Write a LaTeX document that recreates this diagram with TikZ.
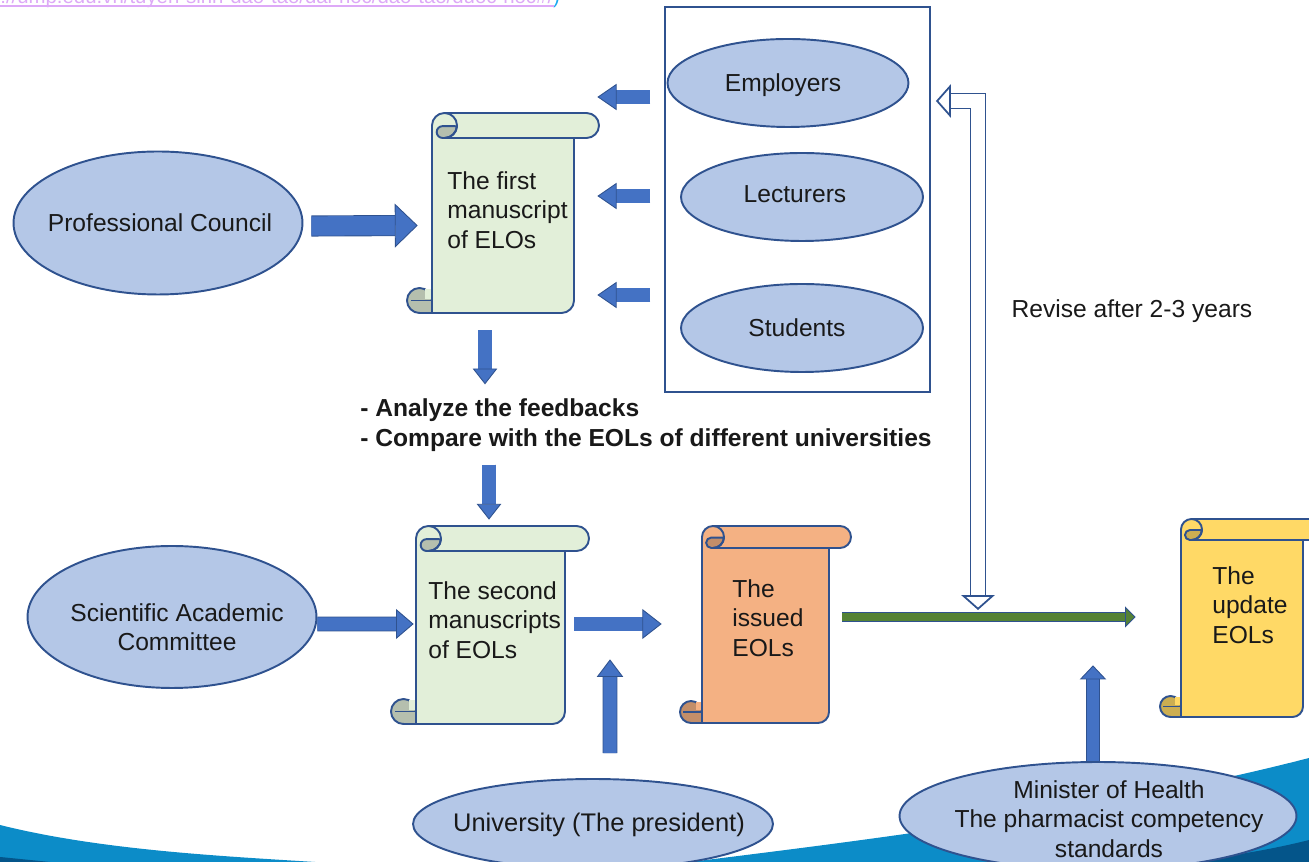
\documentclass[tikz,border=0pt]{standalone}
\usepackage{fontspec}
\setmainfont{Liberation Sans}
\usetikzlibrary{arrows.meta, calc, fit, shapes.geometric}
\definecolor{edgeblue}{HTML}{2F528F}
\definecolor{arrowblue}{HTML}{4472C4}
\definecolor{ovalblue}{HTML}{B4C7E7}
\definecolor{wavemid}{HTML}{0C8CC8}
\definecolor{wavedark}{HTML}{04558A}
\definecolor{greenfill}{HTML}{E2EFD9}
\definecolor{greendark}{HTML}{B5BFAE}
\definecolor{orangefill}{HTML}{F4B183}
\definecolor{orangedark}{HTML}{C38E69}
\definecolor{yellowfill}{HTML}{FFD966}
\definecolor{yellowdark}{HTML}{CCAE52}
\definecolor{stemgreen}{HTML}{548235}
\definecolor{linklilac}{HTML}{DDA9F7}
\definecolor{linkcyan}{HTML}{19A9F0}
\tikzset{
    oval/.style={draw=edgeblue, line width=1.1pt, fill=ovalblue, ellipse, inner sep=0pt, minimum width=#1},
    scrolledge/.style={draw=edgeblue, line width=1.1pt, line join=round},
    caption/.style={inner sep=0pt, align=#1, text=black!90, font=\fontsize{14}{16.7}\selectfont},
    caption/.default=center,
    blockarrow/.style n args={4}{draw=edgeblue, line width=0.5pt, double=#4, double distance=#1,
        -{Triangle[length=#2, width=#3, fill=#4]}},
}
% name, left, top, end of roll, right, bottom, radius, fill, dark fill
\newcommand\manuscript[9]{
    \draw[scrolledge, fill=#8] (#2,#3-#7) arc (180:90:#7) -- (#4-#7,#3) arc (90:-90:#7) -- (#5,#3-2*#7)
        -- (#5,#6+#7) arc (0:-90:#7) -- (#2,#6) -- cycle;
    \draw[scrolledge, fill=#9] (#2+1.8*#7,#3-1.05*#7) -- (#2+0.85*#7,#3-1.05*#7) arc (90:270:0.475*#7)
        -- (#2+#7,#3-2*#7) arc (-90:-5:#7) -- cycle;
    \draw[scrolledge] (#2+#7,#3) arc (90:-90:#7) -- (#5,#3-2*#7);
    \fill[#9] (#2-#7,#6) rectangle (#2,#6+#7);
    \draw[scrolledge, fill=#9] (#2-#7,#6+#7) circle (#7);
    \fill[#9] (#2-#7,#6) rectangle (#2,#6+#7);
    \fill[#8] (#2-0.55*#7,#6+#7+1.5) rectangle (#2-1,#6+2*#7-1);
    \draw[scrolledge] (#2-1.7*#7,#6+#7) -- (#2,#6+#7);
    \draw[scrolledge] (#2-#7,#6) -- (#2,#6) -- (#2,#6+2*#7);
    \node[fit={(#2,#3-2*#7) (#5,#6)}, inner sep=0pt] (#1) {};
}
\begin{document}
\begin{tikzpicture}[x=0.02cm, y=0.02cm]
    \clip (0,0) rectangle (1309,862);

    % wave along the bottom
    \fill[wavemid] (0,37) .. controls (100,12) and (220,6) .. (315,0) -- (0,0) -- cycle;
    \fill[wavedark] (0,5) -- (50,0) -- (0,0) -- cycle;
    \fill[wavemid] (690,0) .. controls (850,20) and (1100,50) .. (1309,104) -- (1309,0) -- cycle;
    \fill[wavedark] (1180,0) .. controls (1220,4) and (1270,12) .. (1309,22) -- (1309,0) -- cycle;

    % link cut off by the top edge
    \node[anchor=base west, inner sep=0pt, text=linklilac, font=\fontsize{11.6}{14}\selectfont] (link) at (0,858)
        {://ump.edu.vn/tuyen-sinh-dao-tao/dai-hoc/dao-tao/duoc-hoc\#/\textcolor{linkcyan}{)}};
    \draw[linklilac, line width=0.7pt] ($(link.base west)+(0,-2)$) -- ($(link.base east)+(-6,-2)$);

    \node[draw=edgeblue, line width=1.1pt, fill=white, inner sep=0pt, minimum width=5.3cm, minimum height=7.7cm] (panel) at (797.5,662.5) {};

    \manuscript{first}{432}{749}{599}{574}{549}{12.5}{greenfill}{greendark}
    \manuscript{second}{416}{336}{589}{565}{138}{12.5}{greenfill}{greendark}
    \manuscript{issued}{702}{336}{851}{829}{139}{11}{orangefill}{orangedark}
    \manuscript{update}{1181}{343}{1330}{1303}{145}{10.5}{yellowfill}{yellowdark}

    \node[caption=left, anchor=west] (firsttext) at (447,652) {The first\\manuscript\\of ELOs};
    \node[caption=left, anchor=west] (secondtext) at (428,242) {The second\\manuscripts\\of EOLs};
    \node[caption=left, anchor=west] (issuedtext) at (732,244) {The\\issued\\EOLs};
    \node[caption=left, anchor=west] (updatetext) at (1212,257) {The\\update\\EOLs};

    \node[oval=5.78cm, minimum height=2.86cm] (council) at (158,639) {};
    \node[oval=4.82cm, minimum height=1.76cm] (employers) at (788,779) {};
    \node[oval=4.84cm, minimum height=1.76cm] (lecturers) at (802,665) {};
    \node[oval=4.84cm, minimum height=1.76cm] (students) at (802,534) {};
    \node[oval=5.78cm, minimum height=2.84cm] (committee) at (172,245) {};
    \node[oval=7.2cm, minimum height=1.8cm] (university) at (593,38) {};
    \node[oval=7.94cm, minimum height=2.16cm] (minister) at (1098,46) {};

    \node[caption] (counciltext) at (160,639) {Professional Council};
    \node[caption] (employerstext) at (783,777) {Employers};
    \node[caption] (lecturerstext) at (795,668) {Lecturers};
    \node[caption] (studentstext) at (797,534) {Students};
    \node[caption] (committeetext) at (177,235) {Scientific Academic\\Committee};
    \node[caption, font=\fontsize{14.5}{16.7}\selectfont] (universitytext) at (599,37) {University (The president)};
    \node[caption] (ministertext) at (1109,43) {Minister of Health\\The pharmacist competency\\standards};
    \node[caption] (revise) at (1132,551) {Revise after 2-3 years};
    \node[caption=left, font=\fontsize{14}{17}\selectfont\bfseries] (analyze) at (646,437)
        {- Analyze the feedbacks\\- Compare with the EOLs of different universities};

    \coordinate (branch) at (978,252);

    \draw[blockarrow={11pt}{13pt}{25pt}{arrowblue}] ($(council.east)+(8,-3)$) -- ($(first.west)+(-14,0)$);
    \draw[blockarrow={7.5pt}{11pt}{15pt}{arrowblue}] ($(panel.west)+(-14,102.5)$) -- ($(first.east)+(23,128.5)$);
    \draw[blockarrow={7.5pt}{11pt}{15pt}{arrowblue}] ($(panel.west)+(-14,3.5)$) -- ($(first.east)+(23,29.5)$);
    \draw[blockarrow={7.5pt}{11pt}{15pt}{arrowblue}] ($(panel.west)+(-14,-95.5)$) -- ($(first.east)+(23,-69.5)$);
    \draw[blockarrow={7.5pt}{9pt}{14pt}{arrowblue}] ($(first.south)+(-18,-17)$) -- ($(first.south)+(-18,-71)$);
    \draw[blockarrow={7.5pt}{9pt}{14pt}{arrowblue}] ($(analyze.south)+(-157,-13)$) -- ($(second.north)+(-1.5,31)$);
    \draw[blockarrow={7.5pt}{10pt}{17pt}{arrowblue}] ($(committee.east)+(0,-7)$) -- ($(second.west)+(-2,13.5)$);
    \draw[blockarrow={7.5pt}{11pt}{17pt}{arrowblue}] ($(second.east)+(9,13.5)$) -- ($(issued.west)+(-40,11.5)$);
    \draw[blockarrow={7.5pt}{10pt}{15pt}{arrowblue}] ($(university.north)+(17,25)$) -- ($(second.south)+(119.5,65)$);
    \draw[blockarrow={7pt}{8pt}{15pt}{arrowblue}] ($(minister.north)+(-5,0)$) -- ($(update.south)+(-149,52)$);
    \draw[blockarrow={5pt}{6pt}{12pt}{stemgreen}] ($(issued.east)+(13,18.5)$) -- ($(update.west)+(-45,11.5)$);

    % hollow arrow with two heads
    \draw[draw=edgeblue, line width=1pt, double=white, double distance=7.6pt, line join=miter,
        {Triangle[length=8.5pt, width=19pt, fill=white]}-{Triangle[length=8.5pt, width=19pt, fill=white]}]
        (branch) |- ($(panel.east)+(5,98.5)$);
\end{tikzpicture}
\end{document}
